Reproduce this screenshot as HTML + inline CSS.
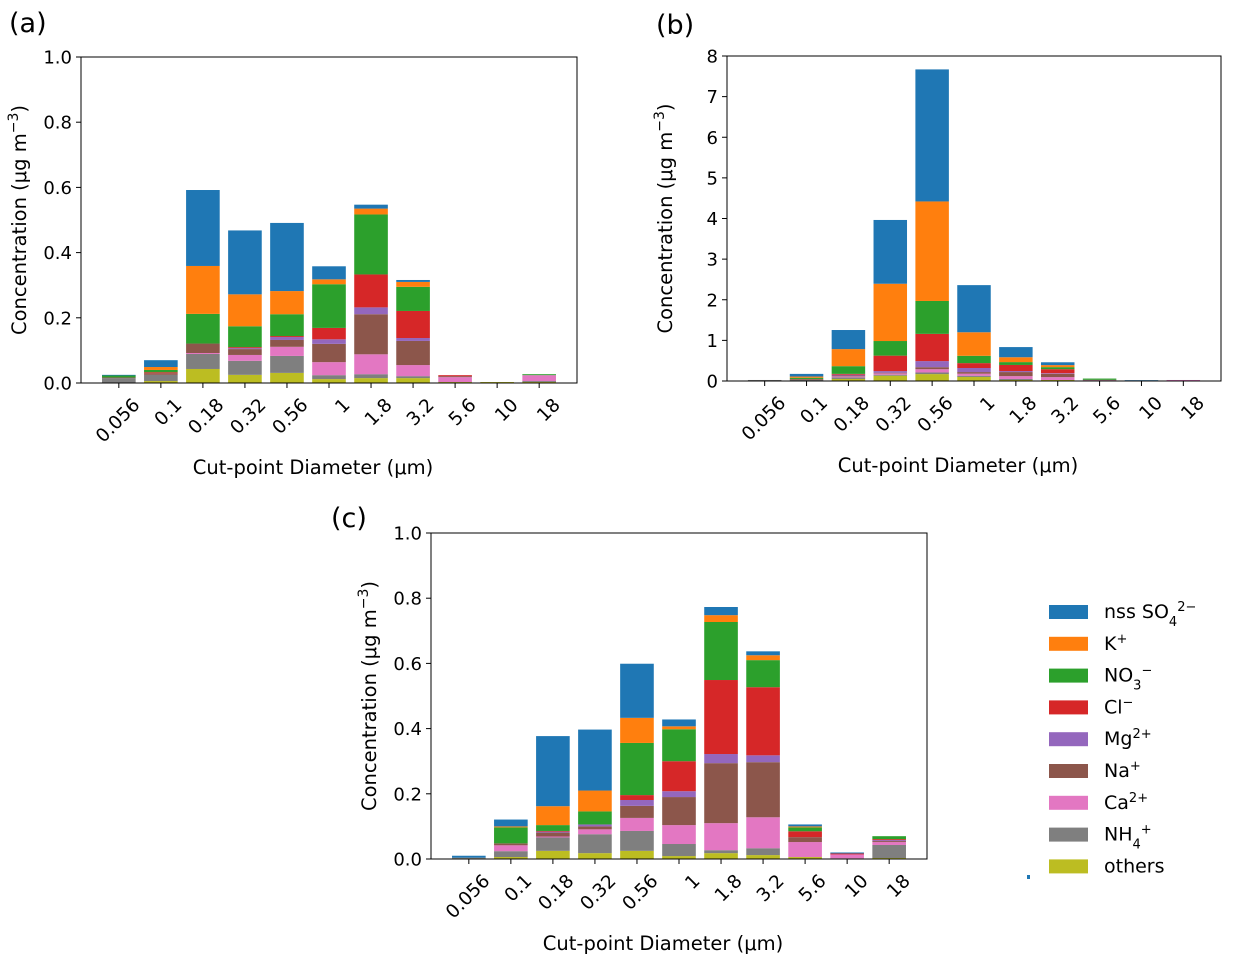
<!DOCTYPE html>
<html><head><meta charset="utf-8"><style>
body{margin:0;background:#fff;width:1234px;height:965px;overflow:hidden}
svg{font-family:"DejaVu Sans","Liberation Sans",sans-serif}
</style></head><body>
<svg id="fig" width="1234" height="965" xmlns="http://www.w3.org/2000/svg"></svg>
<script>
const categories = ["0.056","0.1","0.18","0.32","0.56","1","1.8","3.2","5.6","10","18"];
const species = ["others","NH4","Ca","Na","Mg","Cl","NO3","K","nssSO4"];
const colors = ["#bcbd22","#7f7f7f","#e377c2","#8c564b","#9467bd","#d62728","#2ca02c","#ff7f0e","#1f77b4"];
const panelA = [
 [0,0.006,0.043,0.025,0.031,0.012,0.015,0.015,0.003,0.003,0.003],
 [0.015,0.019,0.046,0.043,0.052,0.012,0.012,0.006,0,0,0.003],
 [0,0,0.003,0.018,0.028,0.04,0.061,0.034,0.015,0,0.018],
 [0.002,0.005,0.029,0.018,0.021,0.056,0.123,0.074,0.003,0,0],
 [0,0,0,0.003,0.009,0.014,0.021,0.009,0,0,0],
 [0,0.003,0,0.003,0.003,0.035,0.101,0.083,0.003,0,0],
 [0.006,0.007,0.091,0.064,0.067,0.134,0.184,0.074,0,0,0.003],
 [0,0.009,0.147,0.098,0.071,0.015,0.018,0.015,0,0,0],
 [0.002,0.021,0.233,0.196,0.209,0.04,0.012,0.006,0,0,0]
];
const panelB = [
 [0,0.01,0.05,0.13,0.17,0.1,0.025,0.025,0.005,0,0],
 [0.025,0.02,0.04,0.025,0.04,0.03,0.025,0,0,0,0.005],
 [0,0,0.025,0.033,0.08,0.05,0.07,0.07,0.015,0,0.02],
 [0,0.02,0.02,0.016,0.05,0.04,0.1,0.08,0.01,0,0],
 [0,0,0.02,0.04,0.15,0.1,0.025,0.016,0,0,0],
 [0,0,0.02,0.38,0.67,0.12,0.15,0.1,0,0,0],
 [0,0.03,0.19,0.36,0.81,0.18,0.07,0.05,0.03,0,0],
 [0,0.03,0.42,1.41,2.45,0.58,0.12,0.05,0,0,0],
 [0,0.065,0.47,1.57,3.25,1.16,0.25,0.07,0,0.02,0]
];
const panelC = [
 [0.002,0.006,0.025,0.018,0.025,0.009,0.018,0.012,0.006,0.002,0.003],
 [0.002,0.018,0.041,0.058,0.061,0.037,0.009,0.021,0,0,0.04],
 [0,0.018,0.003,0.015,0.04,0.058,0.083,0.095,0.046,0.012,0.009],
 [0,0.006,0.012,0.009,0.037,0.086,0.184,0.169,0.015,0,0.003],
 [0,0,0.003,0.006,0.018,0.018,0.028,0.021,0,0,0.003],
 [0,0,0.002,0,0.015,0.092,0.227,0.209,0.018,0.003,0.003],
 [0,0.049,0.018,0.04,0.16,0.098,0.178,0.083,0.012,0,0.009],
 [0,0.003,0.058,0.064,0.077,0.009,0.021,0.015,0.003,0,0],
 [0.006,0.021,0.215,0.187,0.166,0.021,0.025,0.012,0.006,0.003,0]
];
const ticksA = ["0.0","0.2","0.4","0.6","0.8","1.0"];
const ticksB = ["0","1","2","3","4","5","6","7","8"];
const ticksC = ["0.0","0.2","0.4","0.6","0.8","1.0"];
const legendLabels = ['nss SO<tspan baseline-shift="sub" font-size="13">4</tspan><tspan baseline-shift="super" font-size="13">2−</tspan>','K<tspan baseline-shift="super" font-size="13">+</tspan>','NO<tspan baseline-shift="sub" font-size="13">3</tspan><tspan baseline-shift="super" font-size="13">−</tspan>','Cl<tspan baseline-shift="super" font-size="13">−</tspan>','Mg<tspan baseline-shift="super" font-size="13">2+</tspan>','Na<tspan baseline-shift="super" font-size="13">+</tspan>','Ca<tspan baseline-shift="super" font-size="13">2+</tspan>','NH<tspan baseline-shift="sub" font-size="13">4</tspan><tspan baseline-shift="super" font-size="13">+</tspan>','others'];

const NS="http://www.w3.org/2000/svg";
const fig=document.getElementById('fig');
function mk(tag,attrs,parent){const e=document.createElementNS(NS,tag);for(const k in attrs)e.setAttribute(k,attrs[k]);(parent||fig).appendChild(e);return e;}

function panel(id,L,T,W,H,ymax,ticks,data,label,lx,ly){
  const g=mk('g',{});
  
  
  const xs=i=>L+W*(i+0.9)/11.8;
  const ys=v=>T+H-H*v/ymax;
  const bw=W*0.8/11.8;
  for(let i=0;i<categories.length;i++){
    let base=0;
    for(let s=0;s<species.length;s++){
      const v=data[s][i]; if(v<=0)continue;
      const r=mk('rect',{x:xs(i)-bw/2,y:ys(base+v),width:bw,height:ys(base)-ys(base+v),fill:colors[s]},g);
      
      
      base+=v;
    }
  }
  const fr=mk('rect',{x:L,y:T,width:W,height:H,fill:'none',stroke:'#000','stroke-width':1},g);
  
  
  ticks.forEach((t,k)=>{
    const v=ymax*k/(ticks.length-1), y=ys(v);
    mk('line',{x1:L-5,x2:L,y1:y,y2:y,stroke:'#000'},g);
    const tx=mk('text',{x:L-9,y:y+6.5,'text-anchor':'end','font-size':18},g);
    tx.textContent=t;
    
    
  });
  categories.forEach((c,i)=>{
    const x=xs(i);
    mk('line',{x1:x,x2:x,y1:T+H,y2:T+H+5,stroke:'#000'},g);
    const ax=x+22, ay=T+H+23;
    const tx=mk('text',{x:ax,y:ay,'text-anchor':'end','font-size':18.5,transform:`rotate(-45 ${ax} ${ay})`},g);
    tx.textContent=c;
    
    
  });
  const yt=mk('text',{x:L-55,y:T+H/2,'text-anchor':'middle','font-size':19.5,transform:`rotate(-90 ${L-55} ${T+H/2})`},g);
  yt.innerHTML='Concentration (μg m<tspan baseline-shift="super" font-size="14">−3</tspan>)';
  
  
  const xt=mk('text',{x:L+W/2-16,y:T+H+91,'text-anchor':'middle','font-size':19.5},g);
  xt.textContent='Cut-point Diameter (μm)';
  
  
  const pl=mk('text',{x:lx,y:ly,'font-size':27},g);
  pl.textContent=label;
  
  
}
panel('a',81,57,496,326,1,ticksA,panelA,'(a)',9,32);
panel('b',727,56,494,325,8,ticksB,panelB,'(b)',656,34);
panel('c',431,533,496,326,1,ticksC,panelC,'(c)',331,527);

const lg=mk('g',{});


const order=[8,7,6,5,4,3,2,1,0];
order.forEach((s,k)=>{
  const y=612+k*31.8;
  const r=mk('rect',{x:1049,y:y-7,width:39,height:14,fill:colors[s]},lg);
  
  
  const t=mk('text',{x:1104,y:y+6,'font-size':19},lg);
  t.innerHTML=legendLabels[k];
  
  
});
const dot=mk('rect',{x:1027,y:875,width:3,height:4,fill:'#1f77b4'},lg);


</script>
</body></html>
